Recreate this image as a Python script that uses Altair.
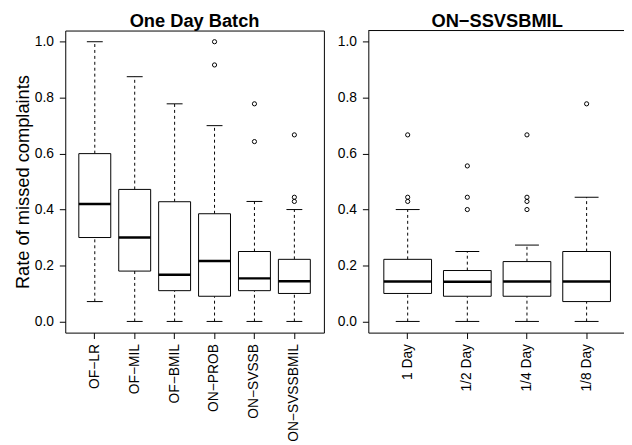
import altair as alt
import pandas as pd

# ---- data ----
left_cats = ["OF\u2212LR", "OF\u2212MIL", "OF\u2212BMIL", "ON\u2212PROB", "ON\u2212SVSSB", "ON\u2212SVSSBMIL"]
left_lo = [0.071, 0.0, 0.0, 0.0, 0.0, 0.0]
left_q1 = [0.30, 0.18, 0.11, 0.09, 0.11, 0.10]
left_med = [0.42, 0.30, 0.167, 0.216, 0.154, 0.144]
left_q3 = [0.60, 0.472, 0.428, 0.385, 0.25, 0.222]
left_hi = [1.0, 0.875, 0.778, 0.70, 0.429, 0.40]
left_out_cat = ["ON\u2212PROB", "ON\u2212PROB", "ON\u2212SVSSB", "ON\u2212SVSSB",
                "ON\u2212SVSSBMIL", "ON\u2212SVSSBMIL", "ON\u2212SVSSBMIL"]
left_out_val = [1.0, 0.917, 0.778, 0.643, 0.667, 0.444, 0.429]

right_cats = ["1 Day", "1/2 Day", "1/4 Day", "1/8 Day"]
right_lo = [0.0, 0.0, 0.0, 0.0]
right_q1 = [0.10, 0.09, 0.09, 0.071]
right_med = [0.143, 0.142, 0.143, 0.143]
right_q3 = [0.222, 0.182, 0.214, 0.25]
right_hi = [0.40, 0.25, 0.273, 0.444]
right_out_cat = ["1 Day", "1 Day", "1 Day", "1/2 Day", "1/2 Day", "1/2 Day",
                 "1/4 Day", "1/4 Day", "1/4 Day", "1/4 Day", "1/8 Day"]
right_out_val = [0.667, 0.444, 0.429, 0.556, 0.444, 0.40,
                 0.667, 0.444, 0.429, 0.40, 0.778]

y_ticks = [0.0, 0.2, 0.4, 0.6, 0.8, 1.0]

FONT = "Liberation Sans"
PLOT_H = 306
LBL = 14


def panel(title, cats, lo, q1, med, q3, hi, out_cat, out_val, pad_outer, width,
          ytitle, box_px, staple_px, open_right):
    df = pd.DataFrame({"cat": cats, "lo": lo, "q1": q1, "med": med, "q3": q3, "hi": hi})
    odf = pd.DataFrame({"cat": out_cat, "val": out_val})
    x = alt.X("cat:N", sort=cats,
              scale=alt.Scale(paddingInner=0.2, paddingOuter=pad_outer),
              axis=alt.Axis(title=None, labelAngle=270, labelAlign="right",
                            labelBaseline="middle", labelFontSize=LBL,
                            labelColor="black", tickColor="black", tickSize=6,
                            labelPadding=5, domain=open_right, domainColor="black",
                            domainWidth=1, grid=False))
    ys = alt.Scale(domain=[-0.04, 1.04], nice=False, zero=False)
    yax = alt.Axis(values=y_ticks, format=".1f", labelFontSize=LBL,
                   labelColor="black", tickColor="black", tickSize=6,
                   labelPadding=6, domain=open_right, domainColor="black",
                   domainWidth=1, grid=False,
                   titleFontSize=18.5, titleFontWeight="normal",
                   titleColor="black", titlePadding=2)

    def Y(field):
        return alt.Y(field, type="quantitative", scale=ys, axis=yax, title=ytitle)

    base = alt.Chart(df)
    wl = base.mark_rule(color="black", strokeDash=[3, 3], strokeWidth=1).encode(
        x=x, y=Y("lo"), y2="q1:Q")
    wh = base.mark_rule(color="black", strokeDash=[3, 3], strokeWidth=1).encode(
        x=x, y=Y("q3"), y2="hi:Q")
    box = base.mark_bar(fill="white", stroke="black", strokeWidth=1).encode(
        x=x, y=Y("q1"), y2="q3:Q")
    mline = base.mark_tick(orient="horizontal", size=box_px, thickness=2.5,
                           color="black", opacity=1).encode(x=x, y=Y("med"))
    st_lo = base.mark_tick(orient="horizontal", size=staple_px, thickness=1,
                           color="black", opacity=1).encode(x=x, y=Y("lo"))
    st_hi = base.mark_tick(orient="horizontal", size=staple_px, thickness=1,
                           color="black", opacity=1).encode(x=x, y=Y("hi"))
    outl = alt.Chart(odf).mark_point(shape="circle", filled=False, size=18,
                                     color="black", strokeWidth=1, opacity=1).encode(
        x=x, y=Y("val"))
    layers = [wl, wh, box, mline, st_lo, st_hi, outl]
    if open_right:
        # top edge of the plot frame (the right edge lies outside the picture)
        top = alt.Chart(pd.DataFrame({"k": [0]})).mark_rule(
            color="black", strokeWidth=1).encode(
            x=alt.value(0), x2=alt.value("width"), y=alt.value(0))
        layers.append(top)
        view = alt.ViewBackground(stroke="transparent")
    else:
        view = alt.ViewBackground(stroke="black", strokeWidth=1)
    return alt.layer(*layers).properties(
        width=width, height=PLOT_H, view=view,
        title=alt.TitleParams(title, fontSize=18.5, fontWeight="bold",
                              color="black", anchor="middle", offset=0))


left = panel("One Day Batch", left_cats, left_lo, left_q1, left_med, left_q3, left_hi,
             left_out_cat, left_out_val, 0.34, 262, "Rate of missed complaints",
             32.2, 16.1, False)
right = panel("ON\u2212SSVSBMIL", right_cats, right_lo, right_q1, right_med, right_q3,
              right_hi, right_out_cat, right_out_val, 0.26, 261, None, 48.3, 24.2, True)

chart = alt.hconcat(left, right, spacing=45, bounds="flush").properties(
    padding={"left": 5, "top": 0, "right": -3, "bottom": 0},
    background="white",
).configure(font=FONT)

chart.save("out.html", embed_options={"renderer": "svg", "actions": False})
